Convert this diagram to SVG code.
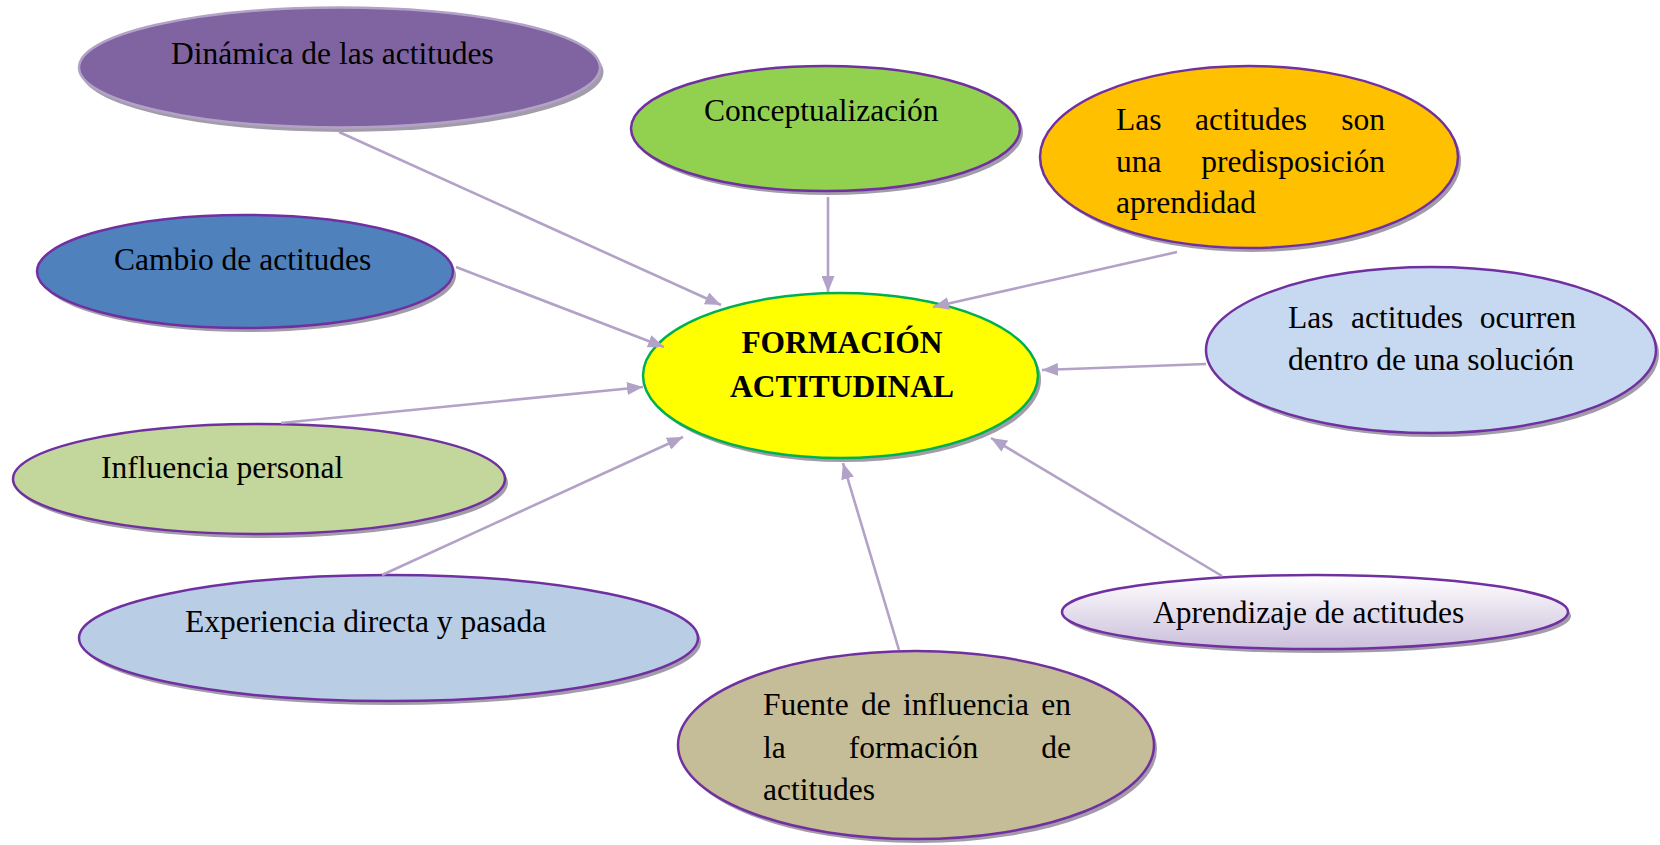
<svg xmlns="http://www.w3.org/2000/svg" width="1660" height="845" viewBox="0 0 1660 845">
<style>
.t{font-family:"Liberation Serif","Times New Roman",serif;font-size:31.5px;fill:#000}
.b{font-weight:bold}
.sh{fill:#a29caa}
.n{stroke:#7030a0;stroke-width:2.5}
.c{stroke:#b3a2c7;stroke-width:2.6;fill:none;marker-end:url(#ah)}
</style>
<defs>
<marker id="ah" markerUnits="userSpaceOnUse" markerWidth="17" markerHeight="13" refX="16" refY="6.5" orient="auto">
<path d="M0,0 L16,6.5 L0,13 z" fill="#b3a2c7"/>
</marker>
<linearGradient id="gA" x1="0" y1="0" x2="0" y2="1">
<stop offset="0" stop-color="#ffffff"/>
<stop offset="1" stop-color="#cbbfdb"/>
</linearGradient>
</defs>
<rect width="1660" height="845" fill="#ffffff"/>

<g id="dinamica">
<ellipse class="sh" cx="342.5" cy="72" rx="261" ry="60"/>
<ellipse cx="339.5" cy="67.5" rx="260.5" ry="60" fill="#8064a2" stroke="#b3a2c7" stroke-width="2.5"/>
<text class="t" x="171" y="64">Dinámica de las actitudes</text>
</g>

<g id="conceptualizacion">
<ellipse class="sh" cx="828.5" cy="132.5" rx="194.5" ry="62.5"/>
<ellipse class="n" cx="825.5" cy="128.5" rx="194.5" ry="62.5" fill="#92d050"/>
<text class="t" x="704" y="121">Conceptualización</text>
</g>

<g id="predisposicion">
<ellipse class="sh" cx="1252" cy="161" rx="209" ry="91"/>
<ellipse class="n" cx="1249" cy="157" rx="209" ry="91" fill="#ffc000"/>
<text class="t" x="1116" y="130">Las</text>
<text class="t" x="1251" y="130" text-anchor="middle">actitudes</text>
<text class="t" x="1385" y="130" text-anchor="end">son</text>
<text class="t" x="1116" y="172">una</text>
<text class="t" x="1385" y="172" text-anchor="end">predisposición</text>
<text class="t" x="1116" y="213">aprendidad</text>
</g>

<g id="ocurren">
<ellipse class="sh" cx="1434" cy="354" rx="225" ry="83"/>
<ellipse class="n" cx="1431" cy="350" rx="225" ry="83" fill="#c6d9f1"/>
<text class="t" x="1288" y="328">Las</text>
<text class="t" x="1407" y="328" text-anchor="middle">actitudes</text>
<text class="t" x="1576" y="328" text-anchor="end">ocurren</text>
<text class="t" x="1288" y="370">dentro de una solución</text>
</g>

<g id="cambio">
<ellipse class="sh" cx="248" cy="275.5" rx="208" ry="56.5"/>
<ellipse class="n" cx="245" cy="271.5" rx="208" ry="56.5" fill="#4f81bd"/>
<text class="t" x="114" y="270">Cambio de actitudes</text>
</g>

<g id="influencia">
<ellipse class="sh" cx="262" cy="483" rx="246" ry="55"/>
<ellipse class="n" cx="259" cy="479" rx="246" ry="55" fill="#c3d69b"/>
<text class="t" x="101" y="478">Influencia personal</text>
</g>

<g id="experiencia">
<ellipse class="sh" cx="391.5" cy="642" rx="309.5" ry="63"/>
<ellipse class="n" cx="388.5" cy="638" rx="309.5" ry="63" fill="#b9cde5"/>
<text class="t" x="185" y="632">Experiencia directa y pasada</text>
</g>

<g id="fuente">
<ellipse class="sh" cx="919" cy="749" rx="238" ry="94"/>
<ellipse class="n" cx="916" cy="745" rx="238" ry="94" fill="#c4bd97"/>
<text class="t" x="763" y="715" word-spacing="4.4">Fuente de influencia en</text>
<text class="t" x="763" y="758">la</text>
<text class="t" x="913.5" y="758" text-anchor="middle">formación</text>
<text class="t" x="1071" y="758" text-anchor="end">de</text>
<text class="t" x="763" y="800">actitudes</text>
</g>

<g id="aprendizaje">
<ellipse class="sh" cx="1318" cy="616" rx="253" ry="37"/>
<ellipse class="n" cx="1315" cy="612" rx="253" ry="37" fill="url(#gA)"/>
<text class="t" x="1153" y="623">Aprendizaje de actitudes</text>
</g>

<g id="formacion">
<ellipse class="sh" cx="843.5" cy="379.5" rx="197.5" ry="82.5"/>
<ellipse cx="840.5" cy="375.5" rx="197.5" ry="82.5" fill="#ffff00" stroke="#00b050" stroke-width="2.5"/>
<text class="t b" x="842" y="353" text-anchor="middle">FORMACIÓN</text>
<text class="t b" x="842" y="397" text-anchor="middle">ACTITUDINAL</text>
</g>

<g id="connectors">
<line class="c" x1="339" y1="132" x2="721" y2="305"/>
<line class="c" x1="828" y1="197" x2="828" y2="292"/>
<line class="c" x1="1177" y1="252" x2="933" y2="307"/>
<line class="c" x1="1206" y1="364" x2="1042" y2="370"/>
<line class="c" x1="456" y1="267" x2="664" y2="347"/>
<line class="c" x1="281" y1="423" x2="643" y2="387"/>
<line class="c" x1="382" y1="575" x2="683" y2="437"/>
<line class="c" x1="899" y1="650" x2="843" y2="463"/>
<line class="c" x1="1222" y1="576" x2="991" y2="438"/>
</g>
</svg>
